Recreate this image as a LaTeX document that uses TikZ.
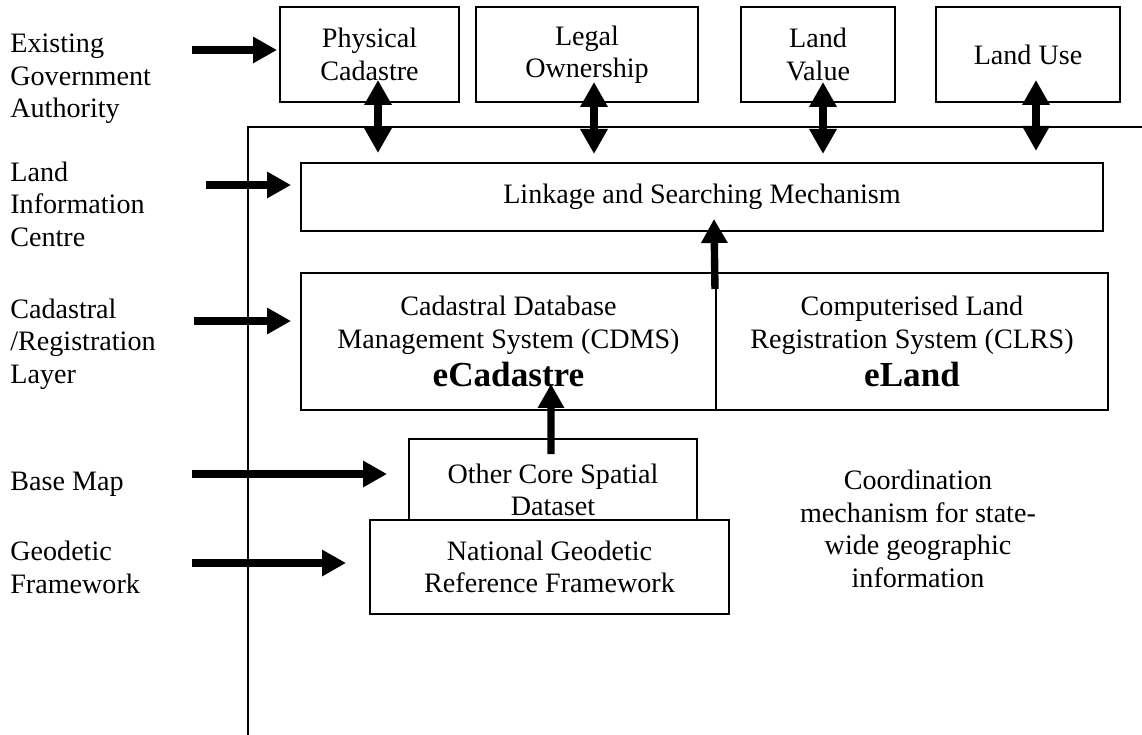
\documentclass[tikz,border=0pt]{standalone}
\usepackage{fontspec}
\setmainfont{Liberation Serif}
\usetikzlibrary{arrows.meta}

\begin{document}
\begin{tikzpicture}[
        font=\fontsize{16}{18.5}\selectfont,
        box/.style={draw, line width=1.1pt, fill=white, align=center, inner sep=0pt},
        lbl/.style={anchor=west, align=left, inner sep=0pt},
        arr/.style={-{Triangle[length=0.48cm,width=0.5cm]}, line width=4.2pt},
        dbl/.style={{Triangle[length=0.5cm,width=0.52cm]}-{Triangle[length=0.5cm,width=0.52cm]}, line width=4.2pt}]

        \useasboundingbox (0,0) rectangle (22.84,-14.7);

        % frame:
        \draw[line width=1.1pt] (22.84,-2.54) -- (4.96,-2.54) -- (4.96,-14.7);

        % left labels:
        \node(EGA)[lbl, xshift=0.2cm, yshift=-1.58cm]{Existing\\Government\\Authority};
        \node(LIC)[lbl, xshift=0.2cm, yshift=-4.08cm]{Land\\Information\\Centre};
        \node(CRL)[lbl, xshift=0.2cm, yshift=-6.88cm]{Cadastral\\/Registration\\Layer};
        \node(BM)[lbl, xshift=0.2cm, yshift=-9.68cm]{Base Map};
        \node(GF)[lbl, xshift=0.2cm, yshift=-11.35cm]{Geodetic\\Framework};

        % top row:
        \node(PC)[box, minimum width=3.58cm, minimum height=1.9cm, xshift=7.39cm, yshift=-1.09cm]{Physical\\Cadastre};
        \node(LO)[box, minimum width=4.44cm, minimum height=1.9cm, xshift=11.74cm, yshift=-1.09cm]{Legal\\Ownership};
        \node(LV)[box, minimum width=3.08cm, minimum height=1.9cm, xshift=16.36cm, yshift=-1.09cm]{Land\\Value};
        \node(LU)[box, minimum width=3.68cm, minimum height=1.9cm, xshift=20.56cm, yshift=-1.09cm]{Land Use};

        % inside the frame:
        \node(LSM)[box, minimum width=16.04cm, minimum height=1.36cm, xshift=14.04cm, yshift=-3.94cm]{Linkage and Searching Mechanism};
        \node(CDMS)[box, minimum width=8.3cm, minimum height=2.74cm, xshift=10.17cm, yshift=-6.83cm]{Cadastral Database\\Management System (CDMS)\\[3pt]\textbf{\fontsize{20}{22}\selectfont eCadastre}};
        \node(CLRS)[box, minimum width=7.84cm, minimum height=2.74cm, xshift=18.24cm, yshift=-6.83cm]{Computerised Land\\Registration System (CLRS)\\[3pt]\textbf{\fontsize{20}{22}\selectfont eLand}};
        \node(OCSD)[box, minimum width=5.76cm, minimum height=2.04cm, xshift=11.06cm, yshift=-9.8cm]{Other Core Spatial\\Dataset};
        \node(NGRF)[box, minimum width=7.18cm, minimum height=1.88cm, xshift=10.99cm, yshift=-11.34cm]{National Geodetic\\Reference Framework};
        \node(CM)[align=center, inner sep=0pt, xshift=18.36cm, yshift=-10.58cm]{Coordination\\mechanism for state-\\wide geographic\\information};

        % arrows from the left:
        \draw[arr] ([xshift=-1.74cm,yshift=0.09cm]PC.west) -- ([xshift=-0.04cm,yshift=0.09cm]PC.west);
        \draw[arr] ([xshift=-1.88cm,yshift=0.24cm]LSM.west) -- ([xshift=-0.18cm,yshift=0.24cm]LSM.west);
        \draw[arr] ([xshift=-2.12cm,yshift=0.41cm]CDMS.west) -- ([xshift=-0.18cm,yshift=0.41cm]CDMS.west);
        \draw[arr] ([xshift=-4.32cm,yshift=0.32cm]OCSD.west) -- ([xshift=-0.42cm,yshift=0.32cm]OCSD.west);
        \draw[arr] ([xshift=-3.54cm,yshift=0.08cm]NGRF.west) -- ([xshift=-0.46cm,yshift=0.08cm]NGRF.west);

        % top row <-> frame:
        \draw[dbl] ([xshift=0.17cm,yshift=0.46cm]PC.south) -- ([xshift=0.17cm,yshift=-1.0cm]PC.south);
        \draw[dbl] ([xshift=0.14cm,yshift=0.42cm]LO.south) -- ([xshift=0.14cm,yshift=-1.02cm]LO.south);
        \draw[dbl] ([xshift=0.1cm,yshift=0.42cm]LV.south) -- ([xshift=0.1cm,yshift=-1.02cm]LV.south);
        \draw[dbl] ([xshift=0.16cm,yshift=0.46cm]LU.south) -- ([xshift=0.16cm,yshift=-0.96cm]LU.south);

        % upwards:
        \draw[arr] ([xshift=-0.04cm,yshift=-0.34cm]CDMS.north east) -- ([xshift=0.24cm,yshift=0.26cm]LSM.south);
        \draw[arr] ([xshift=-0.04cm,yshift=-0.32cm]OCSD.north) -- ([xshift=0.85cm,yshift=0.54cm]CDMS.south);

\end{tikzpicture}
\end{document}
